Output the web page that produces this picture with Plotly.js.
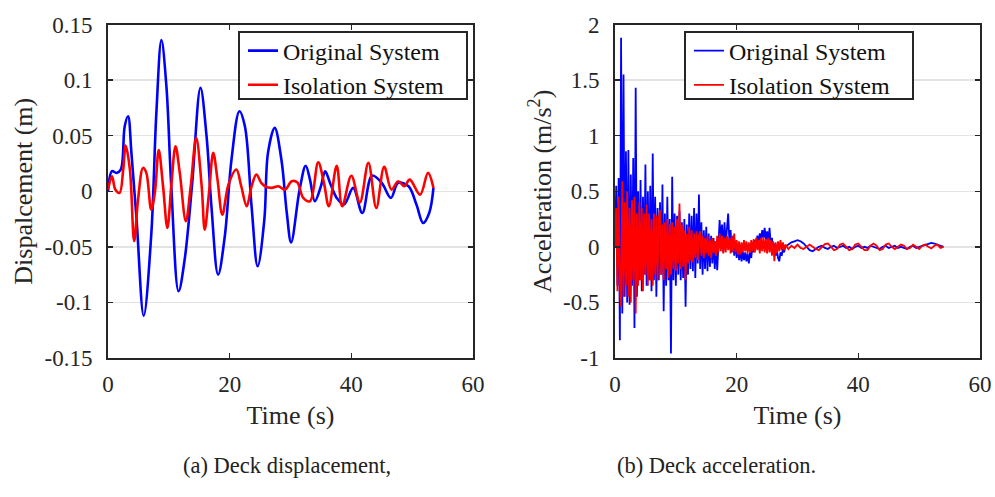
<!DOCTYPE html>
<html>
<head>
<meta charset="utf-8">
<script src="https://cdn.plot.ly/plotly-3.0.1.min.js"></script>
<style>html,body{margin:0;padding:0;background:#fff;}#chart{width:995px;height:497px;}</style>
</head>
<body>
<div id="chart"></div>
<script>
// ---- Displacement (m) ----
var dispOrigTime = [0,0.66,1.4,2.1,2.75,3.3,3.85,4.7,5.87,7.1,7.95,8.78,9.6,10.4,11.6,12.6,13.8,15.2,16.2,17.0,18.1,19.2,20.3,21.6,22.5,23.6,24.6,25.7,26.3,27.4,28.5,29.4,30.1,31.5,32.5,33.2,34.0,35.0,35.7,36.5,37.6,38.8,40.3,41.8,43.4,45.0,46.5,47.7,49.4,50.7,51.8,52.8,53.5];
var dispOrig = [0,0.018,0.0165,0.0195,0.0585,0.0675,0.0345,-0.0255,-0.112,-0.04,0.0705,0.136,0.0945,0.0045,-0.09,-0.0615,0.0045,0.093,0.0495,-0.0135,-0.075,-0.0405,0.0285,0.072,0.0585,-0.0135,-0.0675,-0.0255,0.0345,0.057,0.0285,-0.02,-0.046,0.0015,0.023,0.0105,-0.009,0.0045,0.018,0.0075,-0.006,-0.012,0.003,-0.0195,0.014,0.0075,-0.006,0.0075,0.0045,-0.012,-0.0285,-0.0195,0.003];
var dispIsoTime = [0,0.66,1.2,1.9,2.5,2.9,3.6,4.3,4.94,5.76,6.3,7.1,7.7,8.34,9.05,9.76,10.4,11.1,11.8,12.8,13.6,14.5,15.4,15.9,16.6,17.3,18.0,18.8,19.8,21.1,21.9,22.8,23.6,24.4,25.2,25.8,26.9,28.0,29.1,30.2,31.1,32.1,33.2,34.55,35.5,36.3,37.6,38.5,40.0,41.4,42.8,44.1,45.4,46.6,47.7,48.7,49.6,51.3,52.6,53.5];
var dispIso = [0.0015,0.0135,0.0015,-0.0015,0.0195,0.041,0.0195,-0.045,-0.0075,0.021,0.0165,-0.0165,-0.0015,0.037,0.0045,-0.033,0.0045,0.0405,0.0165,-0.027,0.0045,0.048,0.0045,-0.0345,-0.0015,0.0345,0.0105,-0.021,0.006,0.0195,0.0045,-0.0135,0.0045,0.015,0.0075,0.0045,0.003,0.0045,0.0015,0.009,0.008,-0.006,-0.009,0.026,0.0075,-0.0135,0.023,-0.0135,0.014,-0.01,0.0255,-0.015,0.022,0.0015,0.009,0.0045,0.0105,-0.003,0.0165,0.003];

// ---- Acceleration (m/s^2) ----
var accTime = [0,0.2,0.4,0.6,0.8,1,1.2,1.4,1.6,1.8,
2,2.2,2.4,2.6,2.8,3,3.2,3.4,3.6,3.8,
4,4.2,4.4,4.6,4.8,5,5.2,5.4,5.6,5.8,
6,6.2,6.4,6.6,6.8,7,7.2,7.4,7.6,7.8,
8,8.2,8.4,8.6,8.8,9,9.2,9.4,9.6,9.8,
10,10.2,10.4,10.6,10.8,11,11.2,11.4,11.6,11.8,
12,12.2,12.4,12.6,12.8,13,13.2,13.4,13.6,13.8,
14,14.2,14.4,14.6,14.8,15,15.2,15.4,15.6,15.8,
16,16.2,16.4,16.6,16.8,17,17.2,17.4,17.6,17.8,
18,18.2,18.4,18.6,18.8,19,19.2,19.4,19.6,19.8,
20,20.2,20.4,20.6,20.8,21,21.2,21.4,21.6,21.8,
22,22.2,22.4,22.6,22.8,23,23.2,23.4,23.6,23.8,
24,24.2,24.4,24.6,24.8,25,25.2,25.4,25.6,25.8,
26,26.2,26.4,26.6,26.8,27,27.2,27.4,27.6,27.8,
28,28.5,29,29.5,30,30.5,31,31.5,32,32.5,
33,33.5,34,34.5,35,35.5,36,36.5,37,37.5,
38,38.5,39,39.5,40,40.5,41,41.5,42,42.5,
43,43.5,44,44.5,45,45.5,46,46.5,47,47.5,
48,48.5,49,49.5,50,50.5,51,51.5,52,52.5,
53,53.5,54];
var accOrig = [0,0.55,-0.35,0.62,-0.84,1.88,-0.6,1.55,-0.45,0.86,
-0.5,0.87,-0.52,0.65,-0.35,0.8,-0.73,1.43,-0.45,0.5,
-0.3,0.6,-0.4,0.45,-0.25,0.74,-0.35,0.5,-0.3,0.55,
-0.4,0.84,-0.3,0.45,-0.45,0.35,-0.3,0.4,-0.25,0.56,
-0.58,0.3,-0.35,0.45,-0.3,0.25,-0.96,0.63,-0.3,0.3,
-0.35,0.28,-0.25,0.32,-0.3,0.22,-0.28,0.25,-0.54,0.2,
-0.25,0.3,-0.2,0.28,-0.22,0.35,-0.28,0.3,-0.15,0.47,
-0.2,0.22,-0.25,0.15,-0.2,0.18,-0.22,0.12,-0.18,0.1,
-0.15,0.08,-0.2,0.05,-0.21,0.1,0.24,0.05,0.2,-0.05,
0.22,0.02,0.18,0.3,0.05,0.15,-0.05,0.1,-0.08,0.05,
-0.1,0.02,-0.12,-0.02,-0.13,-0.04,-0.12,-0.05,-0.13,-0.06,
-0.15,-0.05,-0.1,0.02,-0.05,0.06,0,0.1,0.04,0.12,
0.06,0.15,0.08,0.17,0.06,0.14,0.05,0.17,0.02,0.08,
-0.05,0.03,-0.08,-0.02,-0.1,-0.13,-0.05,-0.08,-0.02,-0.05,
0,0.02,0.04,0.05,0.06,0.05,0.03,0,-0.03,-0.04,
-0.02,0,0.01,-0.01,-0.02,0,0.01,-0.01,0,0.01,
-0.01,0,-0.02,0,0.01,-0.01,0,-0.01,0.01,0,
-0.01,-0.02,0,0.01,-0.01,0,0.01,-0.01,0,-0.01,
-0.02,0,0.01,-0.01,0,0.01,0.02,0.03,0.035,0.03,
0.02,0.01,0];
var accIso = [0,0.35,-0.4,0.45,-0.3,-0.54,0.59,-0.45,0.4,-0.35,
0.5,-0.45,0.35,-0.5,0.42,-0.3,0.45,-0.6,0.3,-0.35,
0.4,-0.3,0.35,-0.4,0.3,-0.25,0.38,-0.35,0.3,-0.3,
0.25,-0.35,0.3,-0.25,0.28,-0.3,0.25,0.33,-0.25,0.2,
-0.3,0.22,-0.2,0.25,-0.28,0.2,-0.25,0.22,-0.2,0.18,
-0.22,0.25,-0.15,0.39,-0.2,0.2,-0.18,0.15,-0.3,0.12,
-0.15,0.18,-0.12,0.15,-0.14,0.12,-0.1,0.14,-0.12,0.1,
0.14,-0.08,0.1,-0.1,0.08,-0.06,0.1,-0.08,0.06,-0.1,
0.08,-0.06,0.05,-0.08,0.1,-0.05,0.12,-0.04,0.1,-0.06,
0.08,-0.05,0.1,-0.03,0.08,-0.06,0.1,-0.04,0.12,-0.05,
0.06,-0.07,0.05,-0.07,0.04,-0.05,0.06,-0.04,0.05,-0.06,
0.04,-0.05,0.06,-0.04,0.07,-0.05,0.08,-0.03,0.06,-0.06,
0.08,-0.04,0.09,-0.05,0.07,-0.06,0.08,-0.05,0.06,-0.08,
0.05,-0.13,0.04,-0.06,0.05,-0.04,0.06,-0.03,0.04,-0.03,
0.02,-0.02,0.01,-0.01,0.02,-0.01,-0.02,0,0.02,0,
-0.02,-0.03,0,0.025,0.03,0,-0.03,-0.02,0.02,0.03,
0,-0.03,-0.02,0.02,0.03,0,-0.03,-0.03,0.01,0.03,
0.01,-0.03,-0.02,0.02,0.03,0,-0.02,0,0.02,0.01,
-0.02,-0.01,0.02,0,-0.02,0.01,0.02,0,-0.015,0.01,
0.02,-0.01,0];

// ---- Tick labels / texts ----
var xTickVals = [0,20,40,60];
var xTickText = ['0','20','40','60'];
var dispTickVals = [0.15,0.1,0.05,0,-0.05,-0.1,-0.15];
var dispTickText = ['0.15','0.1','0.05','0','-0.05','-0.1','-0.15'];
var accTickVals = [2,1.5,1,0.5,0,-0.5,-1];
var accTickText = ['2','1.5','1','0.5','0','-0.5','-1'];
var seriesNames = ['Original System','Isolation System'];
var captions = ['(a) Deck displacement,','(b) Deck acceleration.'];

var BLUE = '#0000ff', RED = '#ff0000';
var SERIF = 'Liberation Serif, Times New Roman, serif';
var INK = '#262626';
var W = 995, H = 497;

var traces = [
  {x: dispOrigTime, y: dispOrig, type:'scatter', mode:'lines', name: seriesNames[0],
   line:{color:BLUE, width:2.6, shape:'spline', smoothing:1}, xaxis:'x', yaxis:'y', legend:'legend'},
  {x: dispIsoTime, y: dispIso, type:'scatter', mode:'lines', name: seriesNames[1],
   line:{color:RED, width:2.6, shape:'spline', smoothing:1}, xaxis:'x', yaxis:'y', legend:'legend'},
  {x: accTime, y: accOrig, type:'scatter', mode:'lines', name: seriesNames[0],
   line:{color:BLUE, width:1.8}, xaxis:'x2', yaxis:'y2', legend:'legend2'},
  {x: accTime, y: accIso, type:'scatter', mode:'lines', name: seriesNames[1],
   line:{color:RED, width:1.8}, xaxis:'x2', yaxis:'y2', legend:'legend2'}
];

function xax(domain, anchor){
  return {domain: domain, anchor: anchor, range:[0,60], tickvals:xTickVals, ticktext:xTickText,
    ticks:'inside', ticklen:5, tickcolor:INK, tickwidth:1.5, showgrid:false, zeroline:false,
    showline:true, mirror:'ticks', linecolor:INK, linewidth:2,
    tickfont:{family:SERIF, size:23, color:INK}, ticklabelstandoff:4,
    title:{text:'Time (s)', font:{family:SERIF, size:26, color:INK}, standoff:10}};
}
function yax(domain, anchor, range, tv, tt, title){
  return {domain: domain, anchor: anchor, range: range, tickvals: tv, ticktext: tt,
    ticks:'inside', ticklen:5, tickcolor:INK, tickwidth:1.5, showgrid:true, gridcolor:'#e3e3e3', gridwidth:1.5,
    zeroline:false, showline:true, mirror:'ticks', linecolor:INK, linewidth:2,
    tickfont:{family:SERIF, size:23, color:INK}, ticklabelstandoff:9,
    title:{text:title, font:{family:SERIF, size:26, color:INK}, standoff:4}};
}
var yDom = [1-358/H, 1-24.5/H];
var leg = function(x){ return {x:x, y:1-28.5/H, xanchor:'left', yanchor:'top', bgcolor:'rgba(0,0,0,0)',
  borderwidth:0, font:{family:SERIF, size:24, color:'#111'}, tracegroupgap:0, itemwidth:30}; };
function box(x0, x1, y0, y1){
  return {type:'rect', xref:'paper', yref:'paper', x0:x0/W, x1:x1/W, y0:1-y1/H, y1:1-y0/H,
    line:{color:INK, width:2}, fillcolor:'#ffffff', layer:'above'};
}

var layout = {
  width:W, height:H, margin:{l:0,r:0,t:0,b:0}, paper_bgcolor:'#fff', plot_bgcolor:'#fff',
  showlegend:true,
  xaxis: xax([108/W, 473/W], 'y'),
  yaxis: yax(yDom, 'x', [-0.15,0.15], dispTickVals, dispTickText, 'Dispalcement (m)'),
  xaxis2: xax([615/W, 980/W], 'y2'),
  yaxis2: yax(yDom, 'x2', [-1,2], accTickVals, accTickText, 'Acceleration (m/s<sup>2</sup>)'),
  legend: leg(243/W),
  legend2: leg(689/W),
  shapes: [box(239, 467, 32, 99), box(685, 913, 32, 99)],
  annotations: [
    {text: captions[0], x:287/W, y:1-465/H, xref:'paper', yref:'paper', showarrow:false,
     xanchor:'center', yanchor:'middle', font:{family:SERIF, size:22.5, color:'#222'}},
    {text: captions[1], x:716/W, y:1-465/H, xref:'paper', yref:'paper', showarrow:false,
     xanchor:'center', yanchor:'middle', font:{family:SERIF, size:22.5, color:'#222'}}
  ]
};
Plotly.newPlot('chart', traces, layout, {staticPlot:true, displayModeBar:false});
</script>
</body>
</html>
